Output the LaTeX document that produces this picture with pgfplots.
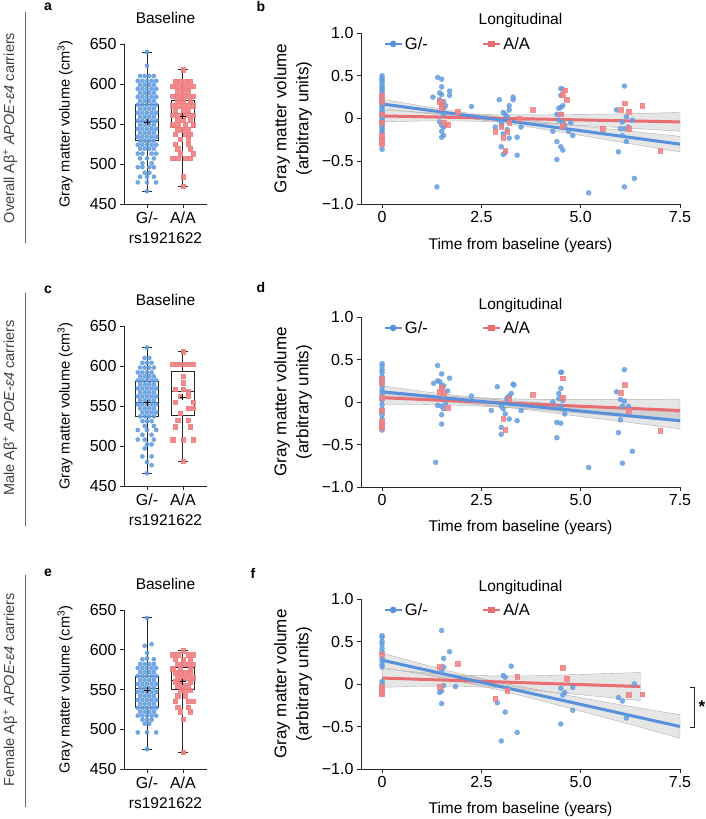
\documentclass[border=0pt]{standalone}
\usepackage{pgfplots}
\pgfplotsset{compat=1.18}
\usepgfplotslibrary{statistics}
\usepackage{fontspec}
\setmainfont{Liberation Sans}
\definecolor{bP}{RGB}{100,157,222}
\definecolor{rP}{RGB}{240,128,130}
\definecolor{bL}{RGB}{88,144,220}
\definecolor{rL}{RGB}{232,110,116}
\newcommand{\fsT}{\fontsize{16}{18}\selectfont}
\newcommand{\fsL}{\fontsize{15.5}{18}\selectfont}
\newcommand{\fsY}{\fontsize{14.6}{17}\selectfont}
\newcommand{\fsYs}{\fontsize{17}{22}\selectfont}
\newcommand{\fsR}{\fontsize{14.5}{17}\selectfont}
\pgfplotsset{
 common/.style={scale only axis, clip=false, axis lines=left,
   axis line style={-, line width=0.8pt, black!85},
   tick align=outside, major tick length=4pt,
   tick style={line width=0.8pt, black!85},
   tick label style={font=\fsT},
   label style={font=\fsL}, title style={font=\fsL},
   anchor=south west},
 boxax/.style={common, width=83pt, height=160pt, xmin=0.36, xmax=2.67, ymin=450, ymax=650,
   xtick={1,2}, xticklabels={G/-,A/A},
   ytick={450,500,550,600,650}, yticklabels={450,500,550,600,650},
   ylabel={Gray matter volume (cm\textsuperscript{3})},
   ylabel style={font=\fsY, at={(axis description cs:-0.71,0.5)}, anchor=center},
   xlabel={rs1921622},
   xlabel style={at={(axis description cs:0.5,-0.2125)}, anchor=center},
   title={Baseline}, title style={at={(0.5,1)}, anchor=center, yshift=20pt}},
 scax/.style={common, width=319pt, height=171pt, xmin=-0.53, xmax=7.5, ymin=-1, ymax=1,
   xtick={0,2.5,5,7.5}, xticklabels={0,2.5,5.0,7.5},
   ytick={-1,-0.5,0,0.5,1}, yticklabels={−1.0,−0.5,0,0.5,1.0},
   ylabel={Gray matter volume\\(arbitrary units)},
   ylabel style={font=\fsYs, align=center, at={(axis description cs:-0.213,0.5)}, anchor=center},
   xlabel={Time from baseline (years)},
   xlabel style={at={(axis description cs:0.5,-0.24)}, anchor=center},
   title={Longitudinal}, title style={at={(0.5,1)}, anchor=center, yshift=6pt},
   legend style={at={(0.06,1.0)}, anchor=north west, draw=none, fill=none,
     font=\fontsize{16.5}{19}\selectfont,
     legend columns=2, /tikz/every even column/.append style={column sep=52pt}},
   legend cell align=left},
 bdot/.style={only marks, mark=*, mark size=2.1pt, color=bP, opacity=0.9},
 rsq/.style={only marks, mark=square*, mark size=2.2pt, color=rP, opacity=0.9},
 sbdot/.style={only marks, mark=*, mark size=2.5pt, color=bP, opacity=0.85, forget plot},
 srsq/.style={only marks, mark=square*, mark size=2.4pt, color=rP, opacity=0.85, forget plot},
 band/.style={fill=gray, fill opacity=0.2, draw=gray!60, line width=0.4pt, forget plot},
 bline/.style={bL, line width=3pt, forget plot},
 rline/.style={rL, line width=3pt, forget plot},
 bx/.style={black!85, line width=0.9pt, solid, forget plot},
 mn/.style={only marks, mark=+, mark size=3pt, black, line width=0.9pt, forget plot}
}
\begin{document}
\begin{tikzpicture}
\path[use as bounding box] (0,0) rectangle (706pt,819pt);
% row labels
\node[rotate=90, font=\fsR, text=black!75] at (10pt,691pt) {Overall Aβ\textsuperscript{+} \textit{APOE-ε4} carriers};
\draw[black!60, line width=0.8pt] (25pt,807pt) -- (25pt,576pt);
\node[rotate=90, font=\fsR, text=black!75] at (10pt,411pt) {Male Aβ\textsuperscript{+} \textit{APOE-ε4} carriers};
\draw[black!60, line width=0.8pt] (25pt,526pt) -- (25pt,293pt);
\node[rotate=90, font=\fsR, text=black!75] at (10pt,129pt) {Female Aβ\textsuperscript{+} \textit{APOE-ε4} carriers};
\draw[black!60, line width=0.8pt] (25pt,244pt) -- (25pt,12pt);
% panel letters
\node[font=\bfseries\fontsize{14}{16}\selectfont] at (48pt,812pt) {a};
\node[font=\bfseries\fontsize{14}{16}\selectfont] at (261pt,812pt) {b};
\node[font=\bfseries\fontsize{14}{16}\selectfont] at (48pt,529pt) {c};
\node[font=\bfseries\fontsize{14}{16}\selectfont] at (261pt,531pt) {d};
\node[font=\bfseries\fontsize{14}{16}\selectfont] at (48pt,246pt) {e};
\node[font=\bfseries\fontsize{14}{16}\selectfont] at (253pt,246pt) {f};

% ---------------- a ----------------
\begin{axis}[boxax, at={(124pt,615pt)}]
\addplot[bdot, forget plot] coordinates {(1,640)(1,623)
(0.808,610)(0.936,610)(1.064,610)(1.192,610)
(0.744,604)(0.872,604)(1,604)(1.128,604)(1.256,604)
(0.808,599)(0.936,599)(1.064,599)(1.192,599)
(0.744,594)(0.872,594)(1,594)(1.128,594)(1.256,594)
(0.808,589)(0.936,589)(1.064,589)(1.192,589)
(0.744,584)(0.872,584)(1,584)(1.128,584)(1.256,584)
(0.808,579)(0.936,579)(1.064,579)(1.192,579)
(0.744,574)(0.872,574)(1,574)(1.128,574)(1.256,574)
(0.808,569)(0.936,569)(1.064,569)(1.192,569)
(0.744,564)(0.872,564)(1,564)(1.128,564)(1.256,564)
(0.808,559)(0.936,559)(1.064,559)(1.192,559)
(0.744,554)(0.872,554)(1,554)(1.128,554)(1.256,554)
(0.808,549)(0.936,549)(1.064,549)(1.192,549)
(0.744,544)(0.872,544)(1,544)(1.128,544)(1.256,544)
(0.808,539)(0.936,539)(1.064,539)(1.192,539)
(0.744,534)(0.872,534)(1,534)(1.128,534)(1.256,534)
(0.808,529)(0.936,529)(1.064,529)(1.192,529)
(0.744,524)(0.872,524)(1,524)(1.128,524)(1.256,524)
(0.808,519)(0.936,519)(1.064,519)(1.192,519)
(0.744,513)(0.872,513)(1.128,513)(1.256,513)
(0.808,507)(1,507)(1.192,507)
(0.872,501)(1.128,501)
(0.744,496)(0.872,496)(1.064,496)(1.192,496)
(0.936,489)(1.064,489)
(0.808,484)(1,484)(1.192,484)
(0.744,477)(1,477)(1.256,477)
(1,466)};
\addplot[rsq, forget plot] coordinates {(2,618)
(1.79,603)(1.93,603)(2.07,603)(2.21,603)
(1.72,597)(1.86,597)(2,597)(2.14,597)(2.28,597)
(1.86,591)(2,591)(2.14,591)
(1.72,585)(1.86,585)(2,585)(2.14,585)(2.28,585)
(1.86,579)(2,579)(2.21,579)
(1.72,573)(1.86,573)(2,573)(2.14,573)(2.28,573)
(1.79,567)(2,567)(2.14,567)
(1.72,561)(1.86,561)(2,561)(2.14,561)(2.28,561)
(1.86,555)(2,555)(2.21,555)
(1.72,549)(1.86,549)(2.07,549)(2.28,549)
(1.86,543)(2,543)(2.14,543)
(1.79,537)(2.07,537)(2.21,537)
(1.93,531)(2.14,531)
(1.79,525)(2.14,525)
(1.86,519)(2.21,519)
(1.93,513)(2.28,513)
(1.72,507)(1.86,507)(2.07,507)(2.21,507)
(2,484)(2,472)};
\addplot[bx, boxplot prepared={draw direction=y, draw position=1, median=553, upper quartile=575, lower quartile=529, upper whisker=640, lower whisker=466, box extend=0.63, whisker extend=0.28}] coordinates {};
\addplot[bx, boxplot prepared={draw direction=y, draw position=2, median=563, upper quartile=580, lower quartile=546, upper whisker=618, lower whisker=472, box extend=0.63, whisker extend=0.28}] coordinates {};
\addplot[mn] coordinates {(1,552)(2,560)};
\end{axis}

% ---------------- b ----------------
\begin{axis}[scax, at={(361pt,615pt)}]
\addlegendimage{bL, line width=2.5pt, mark=*, mark size=2pt}
\addlegendentry{G/-}
\addlegendimage{rL, line width=2.5pt, mark=square*, mark size=2pt}
\addlegendentry{A/A}
\addplot[sbdot] coordinates {
(0,0.5)(0,0.47)(0,0.45)(0,0.43)(0,0.4)(0,0.37)(0,0.35)(0,0.33)(0,0.3)(0,0.27)(0,0.23)(0,0.2)(0,0.17)(0,0.15)(0,0.13)(0,0.1)(0,0.08)(0,0.05)(0,0.02)(0,0)(0,-0.03)(0,-0.05)(0,-0.07)(0,-0.1)(0,-0.12)(0,-0.15)(0,-0.17)(0,-0.36)
(1.4,0.48)(1.5,0.46)(1.45,0.3)(1.5,0.37)(1.28,0.25)(1.5,0.28)(1.45,0.22)(1.55,0.2)(1.5,0.17)(1.6,0.15)(1.7,0.32)(1.7,0.27)(1.55,0.12)(1.45,-0.04)(1.5,-0.08)(1.55,-0.1)(1.5,-0.15)(1.5,-0.22)(1.55,-0.2)(1.6,-0.07)(1.38,-0.8)(1.55,0.05)(2.25,0.14)
(2.85,-0.1)(2.95,0.22)(3.05,0.07)(3.1,0.05)(3.0,-0.05)(3.2,0.15)(3.2,0.1)(3.3,0.25)(3.3,0.22)(3.0,-0.33)(3.05,-0.42)(3.1,-0.4)(3.15,-0.13)(3.4,-0.43)(3.4,-0.22)(3.2,-0.23)(3.5,-0.1)(3.0,-0.08)(3.15,0.02)(3.05,-0.18)
(4.5,0.35)(4.55,0.34)(4.5,0.27)(4.45,0.12)(4.5,0.13)(4.55,0.15)(4.4,0.05)(4.5,0.05)(4.55,-0.05)(4.3,-0.15)(4.4,-0.27)(4.5,-0.33)(4.55,-0.37)(4.4,-0.48)(4.7,-0.15)(4.8,-0.2)(4.75,-0.05)(4.6,-0.08)(4.45,-0.02)
(6.1,0.38)(5.9,0.1)(6.15,0.02)(6.0,-0.12)(6.1,-0.12)(6.05,-0.04)(6.2,-0.1)(6.3,-0.02)(6.15,-0.27)(5.95,-0.39)(6.1,-0.8)(6.35,-0.7)(5.2,-0.87)(6.05,-0.2)};
\addplot[srsq] coordinates {
(0,0.27)(0,0.2)(0,0.05)(0,-0.05)(0,-0.2)(0,-0.23)(0,-0.27)(0,-0.3)
(1.5,0.17)(1.5,0.12)(1.45,0.2)(1.65,-0.07)(1.9,0.08)(1.55,-0.05)
(2.85,-0.15)(3.05,-0.22)(3.1,-0.38)(3.15,-0.15)(3.2,-0.05)(3.8,0.1)(3.45,0.0)(3.0,-0.1)
(4.6,0.33)(4.55,0.28)(4.65,0.22)(4.5,0.05)(4.55,-0.08)
(6.0,0.1)(6.1,0.18)(6.2,0.08)(6.55,0.15)(5.55,-0.12)(6.2,-0.12)(7.0,-0.38)};
\addplot[band] coordinates {(0,0.225)(1,0.147)(2,0.075)(3,0.012)(4,-0.041)(5,-0.088)(6,-0.136)(7,-0.184)(7.5,-0.21)(7.5,-0.39)(7,-0.354)(6,-0.276)(5,-0.198)(4,-0.121)(3,-0.048)(2,0.015)(1,0.067)(0,0.115)(0,0.225)};
\addplot[band] coordinates {(0,0.1)(1,0.071)(2,0.051)(3,0.042)(4,0.043)(5,0.048)(6,0.054)(7,0.065)(7.5,0.07)(7.5,-0.15)(7,-0.135)(6,-0.106)(5,-0.082)(4,-0.057)(3,-0.038)(2,-0.029)(1,-0.029)(0,-0.04)(0,0.1)};
\addplot[rline] coordinates {(0,0.03)(7.5,-0.04)};
\addplot[bline] coordinates {(0,0.17)(7.5,-0.3)};
\end{axis}

% ---------------- c ----------------
\begin{axis}[boxax, at={(124pt,333pt)}]
\addplot[bdot, forget plot] coordinates {(1,623)
(0.936,610)(1.064,610)
(0.872,604)(1,604)(1.128,604)
(0.808,598)(0.936,598)(1.064,598)(1.192,598)
(0.744,592)(0.872,592)(1,592)(1.128,592)
(0.808,587)(0.936,587)(1.064,587)(1.192,587)
(0.744,582)(0.872,582)(1,582)(1.128,582)(1.256,582)
(0.808,577)(0.936,577)(1.064,577)(1.192,577)
(0.744,572)(0.872,572)(1,572)(1.128,572)(1.256,572)
(0.808,567)(0.936,567)(1.064,567)(1.192,567)
(0.744,562)(0.872,562)(1,562)(1.128,562)(1.256,562)
(0.808,557)(0.936,557)(1.064,557)(1.192,557)
(0.744,552)(0.872,552)(1,552)(1.128,552)(1.256,552)
(0.808,547)(0.936,547)(1.064,547)(1.192,547)
(0.872,542)(1,542)(1.128,542)(1.256,542)
(0.808,537)(0.936,537)(1.064,537)(1.192,537)
(0.872,531)(1,531)(1.128,531)
(0.936,525)(1.192,525)
(0.744,520)(1,520)(1.256,520)
(0.872,514)(1.128,514)
(0.744,508)(0.936,508)(1.192,508)
(1,502)(1.128,502)
(0.936,497)
(0.872,487)(1.128,487)
(1,480)(1.128,476)
(1,466)};
\addplot[rsq, forget plot] coordinates {(2,618)
(1.72,602)(1.86,602)(2,602)(2.14,602)(2.28,602)
(2,587)(2,579)
(1.79,571)(2,571)(2.14,568)
(1.93,562)(2.14,562)
(1.79,555)(2.28,555)
(2.14,547)(2.28,547)
(1.93,541)
(1.86,532)(2.14,532)
(2.21,524)(1.79,524)
(1.72,508)(2,508)(2.28,508)
(2,481)};
\addplot[bx, boxplot prepared={draw direction=y, draw position=1, median=555, upper quartile=581, lower quartile=537, upper whisker=623, lower whisker=466, box extend=0.63, whisker extend=0.28}] coordinates {};
\addplot[bx, boxplot prepared={draw direction=y, draw position=2, median=568, upper quartile=593, lower quartile=538, upper whisker=618, lower whisker=481, box extend=0.63, whisker extend=0.28}] coordinates {};
\addplot[mn] coordinates {(1,554)(2,561)};
\end{axis}

% ---------------- d ----------------
\begin{axis}[scax, at={(361pt,332pt)}, height=170pt]
\addlegendimage{bL, line width=2.5pt, mark=*, mark size=2pt}
\addlegendentry{G/-}
\addlegendimage{rL, line width=2.5pt, mark=square*, mark size=2pt}
\addlegendentry{A/A}
\addplot[sbdot] coordinates {
(0,0.45)(0,0.42)(0,0.38)(0,0.35)(0,0.3)(0,0.28)(0,0.22)(0,0.17)(0,0.13)(0,0.1)(0,0.05)(0,0.02)(0,-0.03)(0,-0.08)(0,-0.12)(0,-0.15)(0,-0.2)(0,-0.27)(0,-0.33)
(1.4,0.43)(1.3,0.22)(1.4,0.25)(1.45,0.24)(1.5,0.2)(1.5,0.33)(1.5,0.17)(1.55,0.19)(1.7,0.28)(1.65,0.13)(1.4,-0.04)(1.5,-0.05)(1.55,-0.08)(1.5,-0.15)(1.5,-0.26)(1.6,-0.02)(1.35,-0.71)(2.25,0.07)(1.55,0.05)
(2.75,-0.1)(2.9,0.18)(3.0,-0.05)(3.05,-0.08)(3.15,0.05)(3.2,0.07)(3.25,0.1)(3.3,0.21)(3.32,0.2)(3.0,-0.3)(3.0,-0.38)(3.2,-0.2)(3.4,-0.22)(3.5,-0.1)(3.1,-0.14)(3.15,0.03)
(4.5,0.35)(4.52,0.35)(4.45,0.1)(4.5,0.16)(4.45,0.04)(4.3,0.0)(4.4,-0.24)(4.5,-0.25)(4.4,-0.42)(4.6,-0.14)(4.55,0.02)(4.5,-0.05)
(6.1,0.38)(5.9,0.12)(6.0,0.03)(6.1,0.01)(6.05,-0.05)(6.2,-0.05)(6.0,-0.21)(5.95,-0.36)(6.05,-0.72)(6.3,-0.58)(5.2,-0.77)};
\addplot[srsq] coordinates {
(0,0.27)(0,0.22)(0,0.05)(0,-0.1)(0,-0.23)(0,-0.27)(0,-0.3)
(1.5,0.17)(1.45,0.12)(1.65,-0.07)(1.55,0.1)
(3.05,-0.2)(3.1,-0.33)(3.2,0.04)(3.8,0.09)
(4.55,0.28)(4.55,0.05)
(6.0,0.11)(6.1,0.2)(6.2,-0.1)(7.0,-0.34)};
\addplot[band] coordinates {(0,0.19)(1,0.125)(2,0.069)(3,0.024)(4,-0.011)(5,-0.042)(6,-0.077)(7,-0.107)(7.5,-0.125)(7.5,-0.315)(7,-0.287)(6,-0.227)(5,-0.172)(4,-0.111)(3,-0.056)(2,-0.011)(1,0.025)(0,0.05)(0,0.19)};
\addplot[band] coordinates {(0,0.13)(1,0.09)(2,0.06)(3,0.04)(4,0.03)(5,0.03)(6,0.03)(7,0.03)(7.5,0.035)(7.5,-0.235)(7,-0.21)(6,-0.17)(5,-0.13)(4,-0.09)(3,-0.06)(2,-0.04)(1,-0.03)(0,-0.03)(0,0.13)};
\addplot[rline] coordinates {(0,0.05)(7.5,-0.1)};
\addplot[bline] coordinates {(0,0.12)(7.5,-0.22)};
\end{axis}

% ---------------- e ----------------
\begin{axis}[boxax, at={(124pt,50pt)}, height=159pt]
\addplot[bdot, forget plot] coordinates {(1,640)
(0.936,605)(1.128,607)
(1,596)
(0.872,588)(1,589)(1.192,588)
(0.808,582)(0.936,582)(1.064,582)(1.192,582)
(0.744,577)(0.872,577)(1,577)(1.128,577)(1.256,577)
(0.808,572)(0.936,572)(1.064,572)(1.192,572)
(0.744,567)(0.872,567)(1,567)(1.128,567)(1.256,567)
(0.808,562)(0.936,562)(1.064,562)(1.192,562)
(0.744,557)(0.872,557)(1,557)(1.128,557)(1.256,557)
(0.808,552)(0.936,552)(1.064,552)(1.192,552)
(0.744,547)(0.872,547)(1,547)(1.128,547)(1.256,547)
(0.808,542)(0.936,542)(1.064,542)(1.192,542)
(0.744,537)(0.872,537)(1,537)(1.128,537)(1.256,537)
(0.808,532)(0.936,532)(1.064,532)(1.192,532)
(0.744,527)(0.872,527)(1,527)(1.128,527)(1.256,527)
(0.808,522)(0.936,522)(1.064,522)(1.192,522)
(0.744,517)(0.872,517)(1,517)(1.128,517)(1.256,517)
(0.872,512)(1,512)(1.128,512)
(0.936,507)(1.064,507)
(0.744,496)(1,496)(1.256,496)
(1,475)};
\addplot[rsq, forget plot] coordinates {(2,599)
(1.72,594)(1.86,594)(2.14,594)(2.28,594)
(1.79,588)(2,588)(2.21,588)
(1.86,582)(2,582)(2.14,582)(2.28,582)
(1.72,576)(1.93,576)(2.21,576)
(1.79,571)(1.93,571)(2.07,571)(2.21,571)
(1.86,565)(2,565)(2.14,565)(2.28,565)
(1.79,560)(1.93,560)(2.21,560)
(1.86,555)(2,555)(2.14,555)
(1.93,549)(2.07,549)(2.21,549)
(1.86,542)(2.07,542)
(1.79,535)(2.14,535)(2.28,535)
(1.86,528)(2.14,528)
(1.93,522)(2.21,522)
(2,513)
(2,471)};
\addplot[bx, boxplot prepared={draw direction=y, draw position=1, median=551, upper quartile=567, lower quartile=527, upper whisker=640, lower whisker=475, box extend=0.63, whisker extend=0.28}] coordinates {};
\addplot[bx, boxplot prepared={draw direction=y, draw position=2, median=562, upper quartile=578, lower quartile=550, upper whisker=599, lower whisker=471, box extend=0.63, whisker extend=0.28}] coordinates {};
\addplot[mn] coordinates {(1,549)(2,560)};
\end{axis}

% ---------------- f ----------------
\begin{axis}[scax, at={(361pt,50pt)}, height=170pt]
\addlegendimage{bL, line width=2.5pt, mark=*, mark size=2pt}
\addlegendentry{G/-}
\addlegendimage{rL, line width=2.5pt, mark=square*, mark size=2pt}
\addlegendentry{A/A}
\addplot[sbdot] coordinates {
(0,0.57)(0,0.55)(0,0.5)(0,0.47)(0,0.42)(0,0.38)(0,0.3)(0,0.27)(0,0.23)(0,0.2)(0,0.03)(0,0.0)
(1.5,0.63)(1.7,0.38)(1.55,0.3)(1.55,0.2)(1.45,-0.1)(1.5,-0.08)(1.5,-0.23)(1.55,-0.02)(1.85,-0.03)(1.5,0.15)
(3.25,0.21)(3.05,0.1)(3.1,0.08)(2.9,-0.22)(3.1,-0.33)(3.4,-0.57)(3.0,-0.67)(3.15,-0.05)
(4.5,-0.05)(4.55,-0.13)(4.6,-0.1)(4.8,-0.04)(4.8,-0.31)(4.5,-0.47)
(6.35,0.0)(5.95,-0.16)(6.05,-0.2)(6.15,-0.4)};
\addplot[srsq] coordinates {
(0,0.35)(0,-0.03)(0,-0.05)(0,-0.1)(0,-0.12)
(1.45,0.2)(1.9,0.24)(1.45,-0.03)
(2.85,-0.17)(3.4,0.09)(3.15,-0.08)
(4.55,0.19)(4.65,0.06)
(6.2,-0.13)(6.55,-0.12)};
\addplot[band] coordinates {(0,0.365)(1,0.236)(2,0.117)(3,0.013)(4,-0.076)(5,-0.16)(6,-0.244)(7,-0.323)(7.5,-0.36)(7.5,-0.64)(7,-0.573)(6,-0.444)(5,-0.32)(4,-0.196)(3,-0.077)(2,0.027)(1,0.116)(0,0.195)(0,0.365)};
\addplot[band] coordinates {(0,0.18)(1,0.135)(2,0.104)(3,0.094)(4,0.098)(5,0.113)(6,0.128)(6.5,0.135)(6.5,-0.195)(6,-0.172)(5,-0.127)(4,-0.082)(3,-0.046)(2,-0.026)(1,-0.025)(0,-0.04)(0,0.18)};
\addplot[rline] coordinates {(0,0.07)(6.5,-0.03)};
\addplot[bline] coordinates {(0,0.28)(7.5,-0.5)};
\draw[black!85, line width=0.8pt] (axis cs:7.75,-0.035) -- (axis cs:7.85,-0.035) -- (axis cs:7.85,-0.506) -- (axis cs:7.75,-0.506);
\node[font=\bfseries\fontsize{17}{19}\selectfont] at (axis cs:8.05,-0.27) {*};
\end{axis}
\end{tikzpicture}
\end{document}
